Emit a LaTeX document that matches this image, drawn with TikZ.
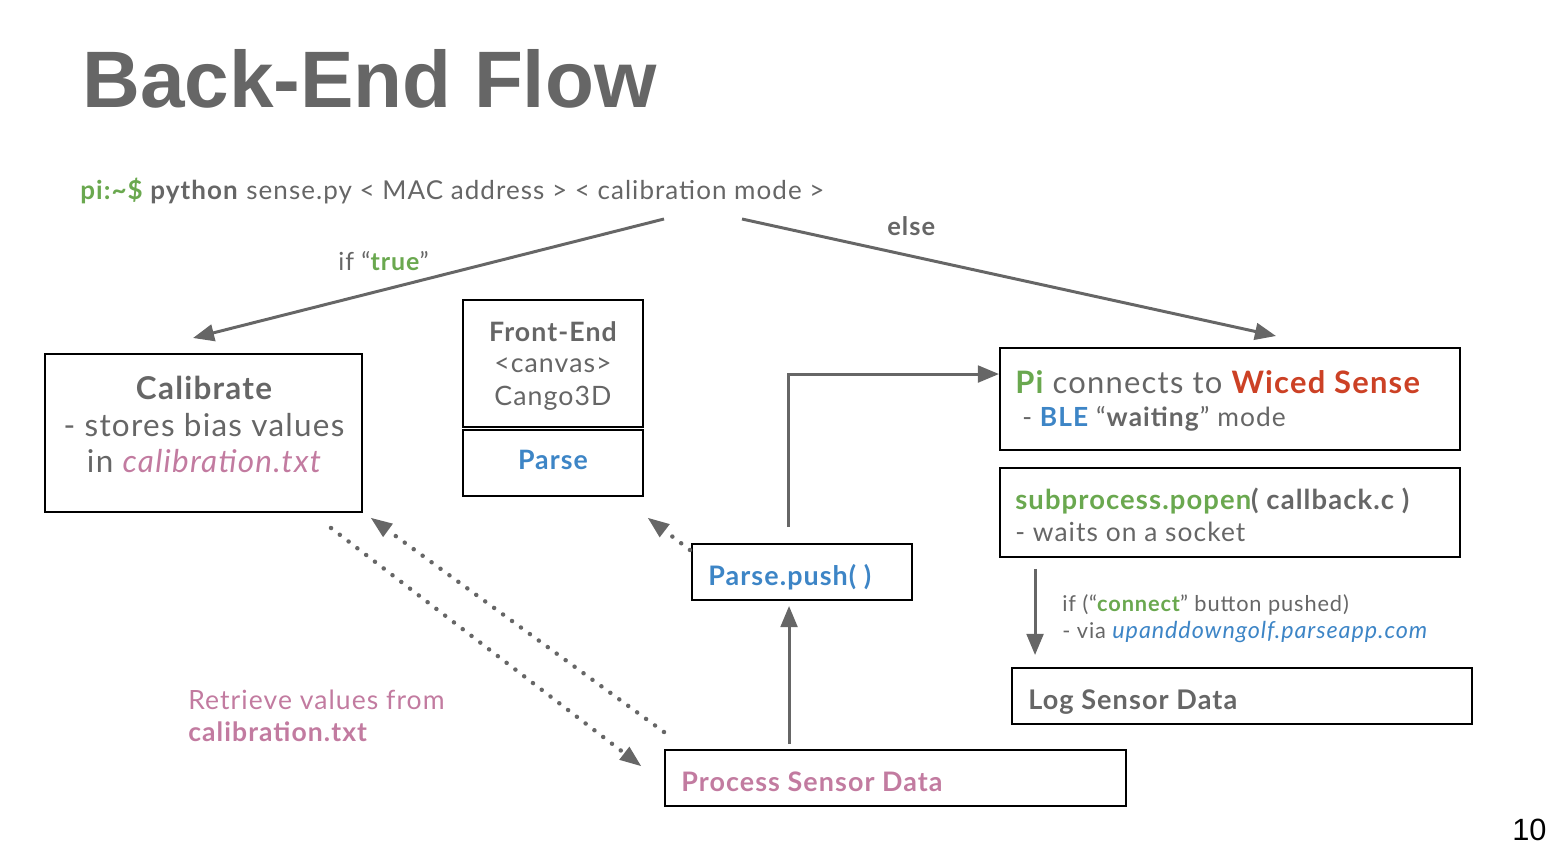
\documentclass[tikz,border=0pt]{standalone}
\usepackage{fontspec}
\setmainfont{Lato}[LetterSpace=4]
\newfontfamily\titlefont{Liberation Sans}
\usetikzlibrary{positioning,fit,calc,arrows.meta}
\definecolor{txtgray}{HTML}{666666}
\definecolor{cmdgreen}{HTML}{6AA84F}
\definecolor{wicedred}{HTML}{CC4125}
\definecolor{parseblue}{HTML}{3D85C6}
\definecolor{filepink}{HTML}{C27BA0}
\newcommand{\fsz}[1]{\fontsize{#1}{1.2\dimexpr#1pt\relax}\selectfont}
\tikzset{
  box/.style={draw=black, line width=1.1pt, inner sep=0pt},
  txt/.style={text=txtgray, inner sep=0pt, anchor=base west},
  ctxt/.style={txt, anchor=base},
  flow/.style={draw=txtgray, line width=1.7pt, -{Triangle[length=12pt,width=9.5pt]}},
  fetch/.style={draw=txtgray, line width=2.5pt, line cap=round, dash pattern=on 0.1pt off 6.2pt, -{Triangle[length=12pt,width=9.5pt,line width=0pt]}}
}
\begin{document}
\begin{tikzpicture}[x=0.02cm, y=-0.02cm]
  \useasboundingbox (0,0) rectangle (1559,851);
  % title and command line
  \node[txt, text=txtgray, font=\titlefont\bfseries\fsz{45.6}] (title) at (82,108) {Back-End Flow};
  \node[txt, font=\fsz{14.8}] (cmd) at (80,200) {\textcolor{cmdgreen}{\bfseries pi:\textasciitilde\$} \textbf{python} sense.py < MAC address > < calibration mode >};
  \coordinate (trueStart) at (664,219);
  \coordinate (trueEnd) at (193,338);
  \coordinate (elseStart) at (742,219);
  \coordinate (elseEnd) at (1276,336);
  \node[txt, font=\fsz{14.2}] (trueLbl) at (338,271) {if “\textcolor{cmdgreen}{\bfseries true}”};
  \node[txt, font=\bfseries\fsz{14.5}] (elseLbl) at (887,236) {else};

  % boxes
  \node[box, fit={(45,354) (362,512)}] (calib) {};
  \node[box, fit={(463,300) (643,427)}] (front) {};
  \node[box, fit={(463,430) (643,496)}] (parse) {};
  \node[box, fit={(1000,348) (1460,450)}] (pi) {};
  \node[box, fit={(1000,468) (1460,557)}] (popen) {};
  \node[box, fit={(1012,668) (1472,724)}] (log) {};
  \node[box, fit={(692,544) (912,600)}] (push) {};
  \node[box, fit={(665,750) (1126,806)}] (process) {};

  % box texts
  \node[ctxt, font=\bfseries\fsz{17.9}] at (204,399) {Calibrate};
  \node[ctxt, font=\fsz{17.9}] at (204,436) {- stores bias values};
  \node[ctxt, font=\fsz{17.9}] at (204,472) {in \textcolor{filepink}{\itshape calibration.txt}};
  \node[ctxt, font=\bfseries\fsz{15.2}] at (553,341) {Front-End};
  \node[ctxt, font=\fsz{15.2}] at (553,373) {<canvas>};
  \node[ctxt, font=\fsz{15.2}] at (553,405) {Cango3D};
  \node[ctxt, text=parseblue, font=\bfseries\fsz{15.2}] at (553,469) {Parse};
  \node[txt, font=\fsz{17.6}] at (1015,393) {\textcolor{cmdgreen}{\bfseries Pi} connects to \textcolor{wicedred}{\bfseries Wiced Sense}};
  \node[txt, font=\fsz{15}] at (1022,426) {- \textcolor{parseblue}{\bfseries BLE} “\textbf{waiting}” mode};
  \node[txt, font=\fsz{15.6}] at (1015,509) {\textcolor{cmdgreen}{\bfseries subprocess.popen}\textbf{( callback.c )}};
  \node[txt, font=\fsz{15}] at (1015,541) {- waits on a socket};
  \node[txt, font=\fsz{12.4}] at (1062,611) {if (“\textcolor{cmdgreen}{\bfseries connect}” button pushed)};
  \node[txt, font=\fsz{12.4}] at (1062,638) {- via \textcolor{parseblue}{\itshape\fsz{13.3}upanddowngolf.parseapp.com}};
  \node[txt, font=\bfseries\fsz{15.4}] at (1028,709) {Log Sensor Data};
  \node[txt, text=parseblue, font=\bfseries\fsz{15.3}] at (708,585) {Parse.push( )};
  \node[txt, text=filepink, font=\bfseries\fsz{15.3}] at (681,791) {Process Sensor Data};
  \node[txt, text=filepink, font=\fsz{15.1}] at (188,709) {Retrieve values from};
  \node[txt, text=filepink, font=\bfseries\fsz{15.1}] at (188,741) {calibration.txt};
  \node[txt, text=black, font=\titlefont\fsz{17.5}] (page) at (1512,840) {10};

  % connectors
  \draw[flow] (trueStart) -- (trueEnd);
  \draw[flow] (elseStart) -- (elseEnd);
  \draw[flow] ($(push.north west)+(97,-16)$) |- ($(pi.north west)+(0,27)$);
  \draw[flow] ($(process.north west)+(125,-5)$) -- ($(push.south west)+(98,5)$);
  \draw[flow] ($(popen.south west)+(36,11)$) -- ($(log.north west)+(24,-12)$);
  \draw[fetch] ($(push.north west)+(-1,7)$) -- ($(parse.south east)+(4,21)$);
  \draw[fetch] ($(process.north west)+(0,-17)$) -- ($(calib.south east)+(8,5)$);
  \draw[fetch] ($(calib.south east)+(-32,15)$) -- ($(process.north west)+(-23,17)$);
\end{tikzpicture}
\end{document}
